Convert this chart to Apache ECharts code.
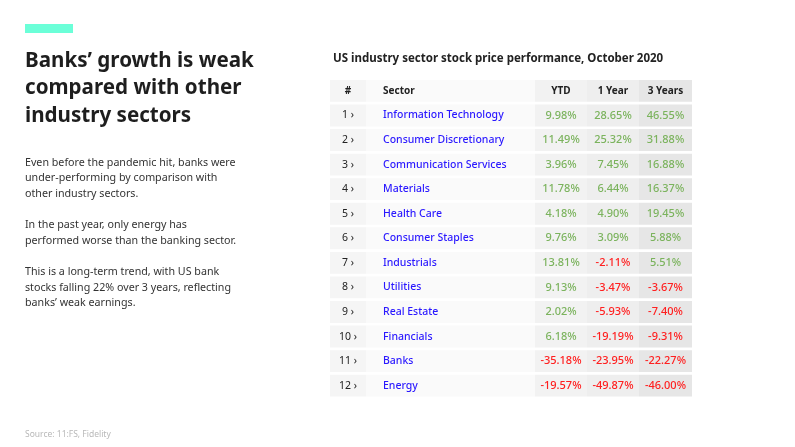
<!DOCTYPE html>
<html>
<head>
<meta charset="utf-8">
<script src="https://cdn.jsdelivr.net/npm/echarts@6/dist/echarts.min.js"></script>
<style>
  html, body { margin: 0; padding: 0; background: #fff; }
  #chart { width: 795px; height: 447px; }
</style>
</head>
<body>
<div id="chart"></div>
<script>
// table data
const columns = ['#', 'Sector', 'YTD', '1 Year', '3 Years'];
const sectors = ['Information Technology', 'Consumer Discretionary', 'Communication Services', 'Materials',
  'Health Care', 'Consumer Staples', 'Industrials', 'Utilities', 'Real Estate', 'Financials', 'Banks', 'Energy'];
const ytd = [9.98, 11.49, 3.96, 11.78, 4.18, 9.76, 13.81, 9.13, 2.02, 6.18, -35.18, -19.57];
const oneYear = [28.65, 25.32, 7.45, 6.44, 4.90, 3.09, -2.11, -3.47, -5.93, -19.19, -23.95, -49.87];
const threeYears = [46.55, 31.88, 16.88, 16.37, 19.45, 5.88, 5.51, -3.67, -7.40, -9.31, -22.27, -46.00];

// layout (column edges in px along the hidden x axis)
const colEdges = [0, 36, 205, 257, 309, 362];
const colFill = ['#f5f5f5', '#fafafa', '#f2f2f2', '#eeeeee', '#e6e6e6'];
const FONT = "'Noto Sans', sans-serif";

const rowNames = ['header'].concat(sectors.map((s, i) => String(i + 1)));
const valueCols = [ytd, oneYear, threeYears];

const cells = [];
rowNames.forEach((name, r) => {
  columns.forEach((col, c) => {
    let text, kind;
    if (r === 0) { text = col; kind = 'head'; }
    else if (c === 0) { text = r + ' \u203a'; kind = 'rank'; }
    else if (c === 1) { text = sectors[r - 1]; kind = 'sector'; }
    else {
      const v = valueCols[c - 2][r - 1];
      text = v.toFixed(2) + '%';
      kind = v < 0 ? 'neg' : 'pos';
    }
    cells.push({ value: [c, r], text: text, kind: kind });
  });
});

const textStyles = {
  head: { fill: '#222', fontSize: 10, fontWeight: 'bold' },
  rank: { fill: '#222', fontSize: 10.5, fontWeight: 'normal' },
  sector: { fill: '#2a18ff', fontSize: 10.5, fontWeight: 500 },
  pos: { fill: '#7bb35d', fontSize: 11, fontWeight: 500 },
  neg: { fill: '#ff2020', fontSize: 11, fontWeight: 500 }
};

function renderCell(params, api) {
  const c = api.value(0);
  const r = api.value(1);
  const cell = cells[params.dataIndex];
  const center = api.coord([colEdges[c], r]);
  const right = api.coord([colEdges[c + 1], r]);
  const band = api.size([0, 1])[1];
  const y0 = center[1] - band / 2;
  const h = band * 0.89;
  const left = c === 1;
  const st = textStyles[cell.kind];
  return {
    type: 'group',
    children: [{
      type: 'rect',
      shape: { x: center[0], y: y0, width: right[0] - center[0], height: h },
      style: { fill: colFill[c] }
    }, {
      type: 'text',
      x: left ? center[0] + 17 : (center[0] + right[0]) / 2,
      y: y0 + h / 2,
      style: {
        text: cell.text,
        fill: st.fill,
        font: st.fontWeight + ' ' + st.fontSize + 'px ' + FONT,
        align: left ? 'left' : 'center',
        verticalAlign: 'middle'
      }
    }]
  };
}

const chart = echarts.init(document.getElementById('chart'));
chart.setOption({
  backgroundColor: '#ffffff',
  animation: false,
  title: [{
    text: 'Banks\u2019 growth is weak\ncompared with other\nindustry sectors',
    left: 25, top: 47, padding: 0,
    textStyle: { fontFamily: FONT, fontSize: 20.6, fontWeight: 'bold', color: '#1e1e1e', lineHeight: 27.5 }
  }, {
    text: 'Even before the pandemic hit, banks were\nunder-performing by comparison with\nother industry sectors.\n\n' +
      'In the past year, only energy has\nperformed worse than the banking sector.\n\n' +
      'This is a long-term trend, with US bank\nstocks falling 22% over 3 years, reflecting\nbanks\u2019 weak earnings.',
    left: 25, top: 155, padding: 0,
    textStyle: { fontFamily: FONT, fontSize: 10.7, fontWeight: 'normal', color: '#333', lineHeight: 15.6 }
  }, {
    text: 'US industry sector stock price performance, October 2020',
    left: 333, top: 53, padding: 0,
    textStyle: { fontFamily: FONT, fontSize: 11.5, fontWeight: 'bold', color: '#222' }
  }, {
    text: 'Source: 11:FS, Fidelity',
    left: 25, top: 430, padding: 0,
    textStyle: { fontFamily: FONT, fontSize: 8.5, fontWeight: 'normal', color: '#b8b8b8' }
  }],
  graphic: [{
    type: 'rect', left: 25, top: 24,
    shape: { width: 48, height: 9 },
    style: { fill: '#6bffd8' }
  }],
  grid: { left: 330, top: 80, width: 362, height: 319.3 },
  xAxis: { type: 'value', min: 0, max: 362, show: false },
  yAxis: { type: 'category', data: rowNames, inverse: true, show: false },
  series: [{
    type: 'custom',
    renderItem: renderCell,
    encode: { x: 0, y: 1 },
    data: cells.map(d => d.value)
  }]
});
</script>
</body>
</html>
